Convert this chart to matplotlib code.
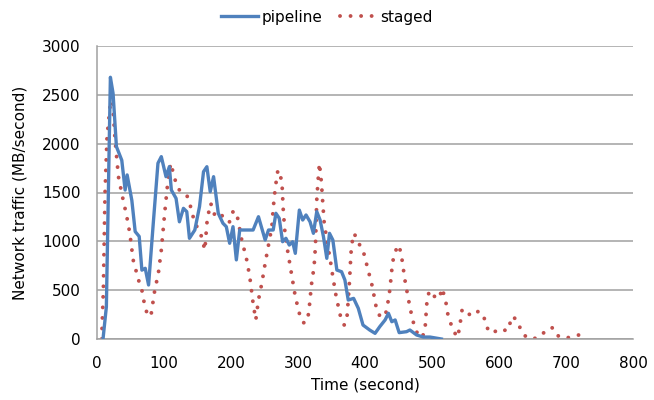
import matplotlib.pyplot as plt

# pipeline series (time in s, traffic in MB/s)
pipeline_t = [9, 14, 20, 24, 29, 33, 37, 42, 45, 52, 57, 63, 67, 72, 77, 84, 91, 96,
              103, 108, 111, 118, 123, 129, 134, 138, 146, 153, 159, 164, 169, 174,
              181, 188, 193, 198, 203, 208, 213, 233, 241, 251, 256, 263, 267, 272,
              277, 282, 287, 292, 296, 302, 307, 312, 318, 323, 328, 333, 338, 343,
              347, 352, 358, 365, 370, 375, 383, 390, 397, 407, 415, 422, 430, 435,
              440, 445, 451, 462, 467, 477, 487, 497, 514]
pipeline_v = [0, 330, 2680, 2515, 1970, 1900, 1830, 1525, 1680, 1420, 1100, 1050, 705,
              724, 553, 1185, 1800, 1867, 1662, 1764, 1525, 1440, 1200, 1338, 1304,
              1031, 1116, 1355, 1713, 1764, 1508, 1662, 1287, 1185, 1150, 980, 1150,
              810, 1116, 1116, 1252, 1014, 1116, 1116, 1287, 1236, 996, 1031, 962,
              996, 877, 1320, 1218, 1270, 1200, 1082, 1304, 1218, 1048, 826, 1082,
              1014, 706, 689, 604, 399, 416, 314, 143, 92, 58, 126, 195, 263, 177,
              195, 65, 75, 92, 41, 20, 20, 0]

# staged series
staged_t = [7, 9.5, 12, 15, 19, 22, 24, 27, 32, 38, 44, 49, 54, 62, 67, 72, 77, 81, 87,
            91, 96, 101, 106, 110, 114, 118, 123, 134, 139, 146, 154, 161, 164, 169,
            173, 176, 186, 193, 198, 203, 208, 211, 216, 223, 228, 233, 237, 241, 246,
            251, 256, 261, 263, 266, 270, 272, 276, 278, 281, 286, 291, 296, 302, 308,
            312, 316, 320, 324, 326, 328, 330, 332, 335, 337, 339, 343, 348, 352, 357,
            363, 369, 373, 375, 377, 379, 381, 384, 389, 397, 404, 411, 416, 421, 430,
            434, 437, 440, 442, 445, 450, 454, 456, 460, 465, 471, 476, 481, 488, 490,
            491, 492, 493, 497, 506, 511, 515, 518, 521, 523, 527, 532, 538, 541, 543,
            545, 550, 558, 570, 578, 582, 589, 602, 612, 616, 621, 629, 634, 643, 656,
            667, 679, 685, 698, 710, 719, 731]
staged_v = [0, 500, 1490, 2070, 2345, 2550, 2345, 2040, 1662, 1457, 1270, 1082, 809, 604,
            500, 314, 228, 260, 536, 640, 911, 1287, 1628, 1800, 1696, 1594, 1525, 1474,
            1372, 1185, 1098, 911, 1185, 1390, 1355, 1252, 1270, 1200, 1200, 1304, 1304,
            1200, 1014, 826, 638, 365, 195, 400, 570, 775, 962, 1150, 1338, 1543, 1730,
            1710, 1610, 1320, 1048, 843, 638, 433, 263, 167, 167, 263, 553, 740, 945,
            1423, 1628, 1800, 1600, 1390, 1200, 1014, 816, 638, 433, 245, 143, 212, 400,
            604, 877, 996, 1082, 996, 911, 724, 536, 348, 245, 228, 365, 500, 706, 809,
            894, 962, 877, 775, 587, 400, 195, 92, 14, 48, 140, 245, 340, 433, 495, 416,
            420, 519, 450, 365, 270, 177, 85, 17, 109, 207, 304, 297, 235, 287, 212, 116,
            58, 106, 82, 154, 235, 160, 65, 7, 7, 65, 119, 41, 7, 24, 41, 7]

plt.rcParams['font.family'] = 'DejaVu Sans'
plt.rcParams['font.size'] = 11

fig = plt.figure(figsize=(6.54, 4), dpi=100)
ax = fig.add_axes([0.1483, 0.1525, 0.8196, 0.7325])

ax.plot(pipeline_t, pipeline_v, color='#4F81BD', lw=2.4, label='pipeline', zorder=3)
ax.plot(staged_t, staged_v, color='#C0504D', lw=2.8, linestyle=(0, (0.01, 2.7)),
        dash_capstyle='round', label='staged', zorder=2)

ax.set_xlim(0, 800)
ax.set_ylim(0, 3000)
ax.set_xticks(range(0, 801, 100))
ax.set_yticks(range(0, 3001, 500))
ax.grid(axis='y', color='#A0A0A0', lw=1.1)
ax.set_axisbelow(True)
for s in ['top', 'right']:
    ax.spines[s].set_visible(False)
for s in ['left', 'bottom']:
    ax.spines[s].set_color('#A0A0A0')
    ax.spines[s].set_linewidth(1.1)
ax.tick_params(axis='x', length=0, pad=12)
ax.tick_params(axis='y', length=0, pad=12)

ax.set_xlabel('Time (second)', labelpad=5)
ax.set_ylabel('Network traffic (MB/second)', labelpad=10)

fig.legend(loc='upper center', bbox_to_anchor=(0.5, 1.01), ncol=2, frameon=False,
           handlelength=2.4, columnspacing=1.2, handletextpad=0.2)

fig.savefig('out.png', dpi=100)
